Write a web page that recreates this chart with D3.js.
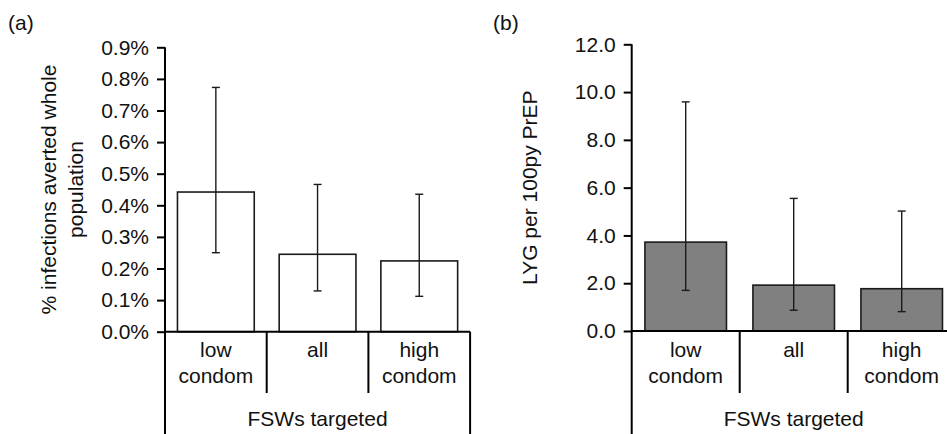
<!DOCTYPE html>
<html>
<head>
<meta charset="utf-8">
<script src="https://cdn.jsdelivr.net/npm/d3@7"></script>
<style>
body{margin:0;background:#fff;}
svg{display:block;font-family:"Liberation Sans",Arial,Helvetica,sans-serif;}
</style>
</head>
<body>
<div id="chart"></div>
<script>
// categories shared by both panels
var categories=["low condom","all","high condom"];
var catLines=[["low","condom"],["all"],["high","condom"]];

// panel (a): % infections averted whole population
var averted=[0.442,0.245,0.224];
var avertedLow=[0.25,0.129,0.112];
var avertedHigh=[0.773,0.466,0.435];
var avertedTicks=[0,0.1,0.2,0.3,0.4,0.5,0.6,0.7,0.8,0.9];

// panel (b): LYG per 100py PrEP
var lyg=[3.72,1.92,1.77];
var lygLow=[1.70,0.87,0.81];
var lygHigh=[9.59,5.55,5.02];
var lygTicks=[0,2,4,6,8,10,12];

var W=947,H=434;
var svg=d3.select("#chart").append("svg").attr("width",W).attr("height",H);

function panel(opt){
    var g=svg.append("g");
    var y=d3.scaleLinear().domain(opt.domain).range([opt.y0,opt.y1]);
    var x=d3.scaleBand().domain(categories).range([opt.x0,opt.x0+opt.step*3])
        .paddingInner(0.245).paddingOuter(0.1225);

    // bars
    g.selectAll("rect.bar").data(opt.values).enter().append("rect")
        .attr("x",function(d,i){return x(categories[i]);})
        .attr("y",function(d){return y(d);})
        .attr("width",x.bandwidth())
        .attr("height",function(d){return y(0)-y(d);})
        .attr("fill",opt.fill).attr("stroke","#1a1a1a").attr("stroke-width",1.6);

    // error bars
    var eb=g.selectAll("g.err").data(opt.values).enter().append("g")
        .attr("stroke","#1a1a1a").attr("stroke-width",1.4);
    eb.append("line")
        .attr("x1",function(d,i){return x(categories[i])+x.bandwidth()/2;})
        .attr("x2",function(d,i){return x(categories[i])+x.bandwidth()/2;})
        .attr("y1",function(d,i){return y(opt.low[i]);})
        .attr("y2",function(d,i){return y(opt.high[i]);});
    [opt.low,opt.high].forEach(function(arr){
        eb.append("line")
            .attr("x1",function(d,i){return x(categories[i])+x.bandwidth()/2-4;})
            .attr("x2",function(d,i){return x(categories[i])+x.bandwidth()/2+4;})
            .attr("y1",function(d,i){return y(arr[i]);})
            .attr("y2",function(d,i){return y(arr[i]);});
    });

    // y axis
    var ax=g.append("g").attr("transform","translate("+opt.x0+",0)")
        .call(d3.axisLeft(y).tickValues(opt.ticks).tickFormat(opt.fmt).tickSize(8).tickSizeOuter(0).tickPadding(8));
    ax.select(".domain").remove();
    ax.selectAll(".tick line").attr("stroke","#000").attr("stroke-width",2);
    ax.selectAll("text").attr("font-size",21).attr("fill","#111")
        .attr("font-family","'Liberation Sans',Arial,sans-serif");

    // axis frame lines
    var xEnd=opt.x0+opt.step*3;
    g.append("line").attr("x1",opt.x0).attr("x2",opt.x0).attr("y1",y(opt.domain[1])).attr("y2",H)
        .attr("stroke","#000").attr("stroke-width",2);
    g.append("line").attr("x1",opt.x0).attr("x2",xEnd).attr("y1",y(0)).attr("y2",y(0))
        .attr("stroke","#000").attr("stroke-width",2);
    g.append("line").attr("x1",xEnd).attr("x2",xEnd).attr("y1",y(0)).attr("y2",H)
        .attr("stroke","#000").attr("stroke-width",2);
    [1,2].forEach(function(k){
        g.append("line").attr("x1",opt.x0+opt.step*k).attr("x2",opt.x0+opt.step*k)
            .attr("y1",y(0)).attr("y2",393).attr("stroke","#000").attr("stroke-width",2);
    });

    // category labels
    catLines.forEach(function(lines,i){
        var cx=x(categories[i])+x.bandwidth()/2;
        lines.forEach(function(t,j){
            g.append("text").attr("x",cx).attr("y",357+j*25.5).attr("text-anchor","middle")
                .attr("font-size",21).attr("fill","#111").text(t);
        });
    });
    g.append("text").attr("x",opt.x0+opt.step*1.5).attr("y",426).attr("text-anchor","middle")
        .attr("font-size",21).attr("fill","#111").text("FSWs targeted");

    // y title
    opt.title.forEach(function(t,j){
        g.append("text").attr("transform","translate("+(opt.titleX+j*27)+","+((opt.y0+opt.y1)/2)+")rotate(-90)")
            .attr("text-anchor","middle").attr("font-size",21).attr("fill","#111").text(t);
    });

    // panel letter
    g.append("text").attr("x",opt.letterX).attr("y",30).attr("font-size",21).attr("fill","#111").text(opt.letter);
}

panel({values:averted,low:avertedLow,high:avertedHigh,ticks:avertedTicks,domain:[0,0.9],
    fmt:function(d){return d.toFixed(1)+"%";},x0:165,step:101.7,y0:331.7,y1:47.3,
    fill:"#fff",title:["% infections averted whole","population"],titleX:56,letter:"(a)",letterX:8});

panel({values:lyg,low:lygLow,high:lygHigh,ticks:lygTicks,domain:[0,12],
    fmt:function(d){return d.toFixed(1);},x0:631.7,step:108,y0:331,y1:44.3,
    fill:"#808080",title:["LYG per 100py PrEP"],titleX:537,letter:"(b)",letterX:493});
</script>
</body>
</html>
